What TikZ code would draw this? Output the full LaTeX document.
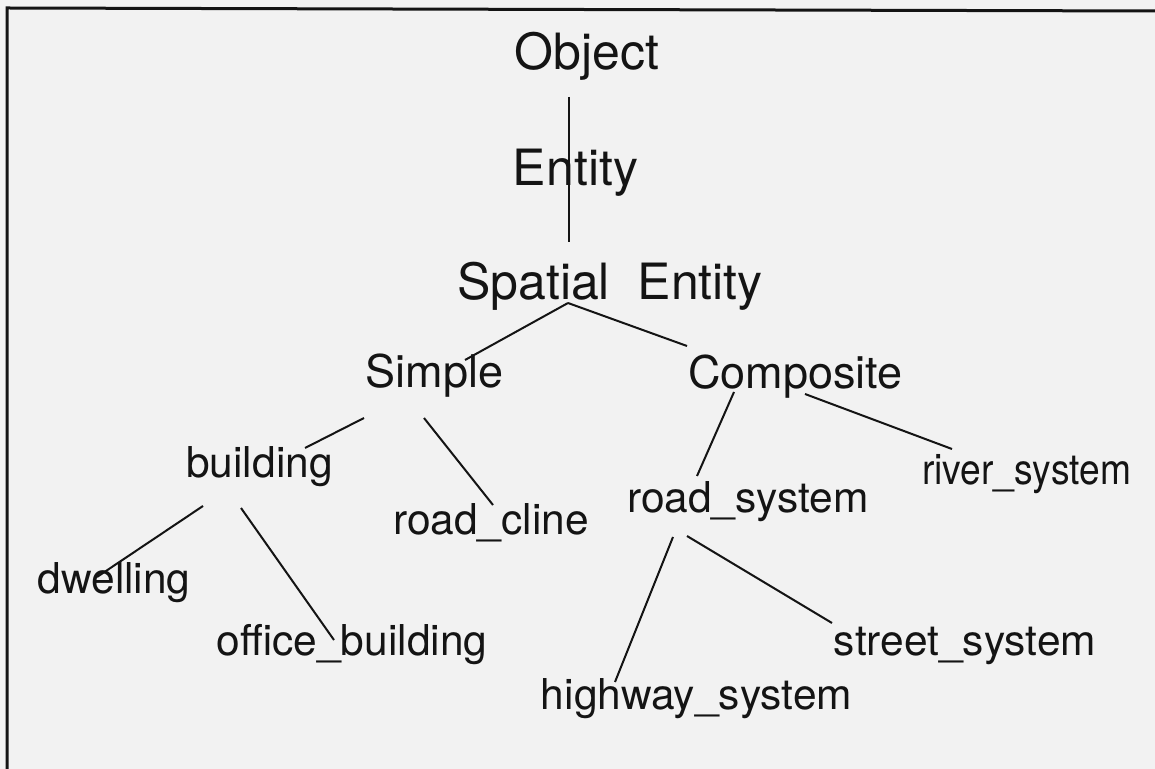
\documentclass[tikz,border=0pt]{standalone}
\usepackage{fontspec}
\setmainfont{TeX Gyre Heros}
\definecolor{bg}{RGB}{242,242,242}
\definecolor{ink}{RGB}{20,20,20}
\begin{document}
\begin{tikzpicture}[x=0.5pt,y=-0.5pt,
  lvlA/.style={anchor=base,inner sep=0pt,text=ink,font=\fontsize{25}{30}\selectfont},
  lvlB/.style={anchor=base,inner sep=0pt,text=ink,font=\fontsize{22.5}{27}\selectfont},
  lvlC/.style={anchor=base,inner sep=0pt,text=ink,font=\fontsize{21.25}{26}\selectfont},
  edge/.style={line width=1pt,draw=ink},
  frame/.style={line width=1.5pt,draw=ink}]
\fill[bg] (0,0) rectangle (1155,769);
\useasboundingbox (0,0) rectangle (1155,769);
\coordinate (fb) at (7,769);
\coordinate (ftl) at (7,8);
\coordinate (ftr) at (1155,11);
\draw[frame] (fb) -- (ftl) -- (ftr);

% nodes
\node[lvlA] (obj) at (587,70) {Object};
\node[lvlA] (ent) at (575.5,186) {Entity};
\node[lvlA] (spa) at (610,300) {Spatial\ \ Entity};
\node[lvlB] (sim) at (434.5,388) {Simple};
\node[lvlB] (com) at (795.5,389) {Composite};
\node[lvlC] (bui) at (259.5,478) {building};
\node[lvlC] (rcl) at (491,534) {road\_cline};
\node[lvlC] (rsy) at (748,512) {road\_system};
\node[lvlC] (riv) at (1026.5,484) {\scalebox{0.875}[1]{river\_system}};
\node[lvlC] (dwe) at (114,593) {dwelling};
\node[lvlC] (off) at (352,655) {office\_building};
\node[lvlC] (hwy) at (696.5,709) {highway\_system};
\node[lvlC] (str) at (965,655) {street\_system};

% connector ends
\coordinate (obj-s) at (569,97);
\coordinate (spa-n) at (569,242);
\coordinate (spa-s) at (568,303);
\coordinate (sim-n) at (465,360);
\coordinate (com-n) at (687,346);
\coordinate (sim-sw) at (364,418);
\coordinate (bui-ne) at (305,448);
\coordinate (sim-se) at (424,418);
\coordinate (rcl-n) at (493,505);
\coordinate (com-s) at (734,392);
\coordinate (rsy-n) at (697,476);
\coordinate (com-se) at (805,394);
\coordinate (riv-n) at (952,449);
\coordinate (bui-sw) at (203,506);
\coordinate (dwe-n) at (97,577);
\coordinate (bui-se) at (241,508);
\coordinate (off-n) at (334,640);
\coordinate (rsy-sw) at (673,537);
\coordinate (hwy-n) at (615,682);
\coordinate (rsy-se) at (687,536);
\coordinate (str-n) at (832,623);

\draw[edge] (obj-s) -- (spa-n);
\draw[edge] (spa-s) -- (sim-n);
\draw[edge] (spa-s) -- (com-n);
\draw[edge] (sim-sw) -- (bui-ne);
\draw[edge] (sim-se) -- (rcl-n);
\draw[edge] (com-s) -- (rsy-n);
\draw[edge] (com-se) -- (riv-n);
\draw[edge] (bui-sw) -- (dwe-n);
\draw[edge] (bui-se) -- (off-n);
\draw[edge] (rsy-sw) -- (hwy-n);
\draw[edge] (rsy-se) -- (str-n);
\end{tikzpicture}
\end{document}
